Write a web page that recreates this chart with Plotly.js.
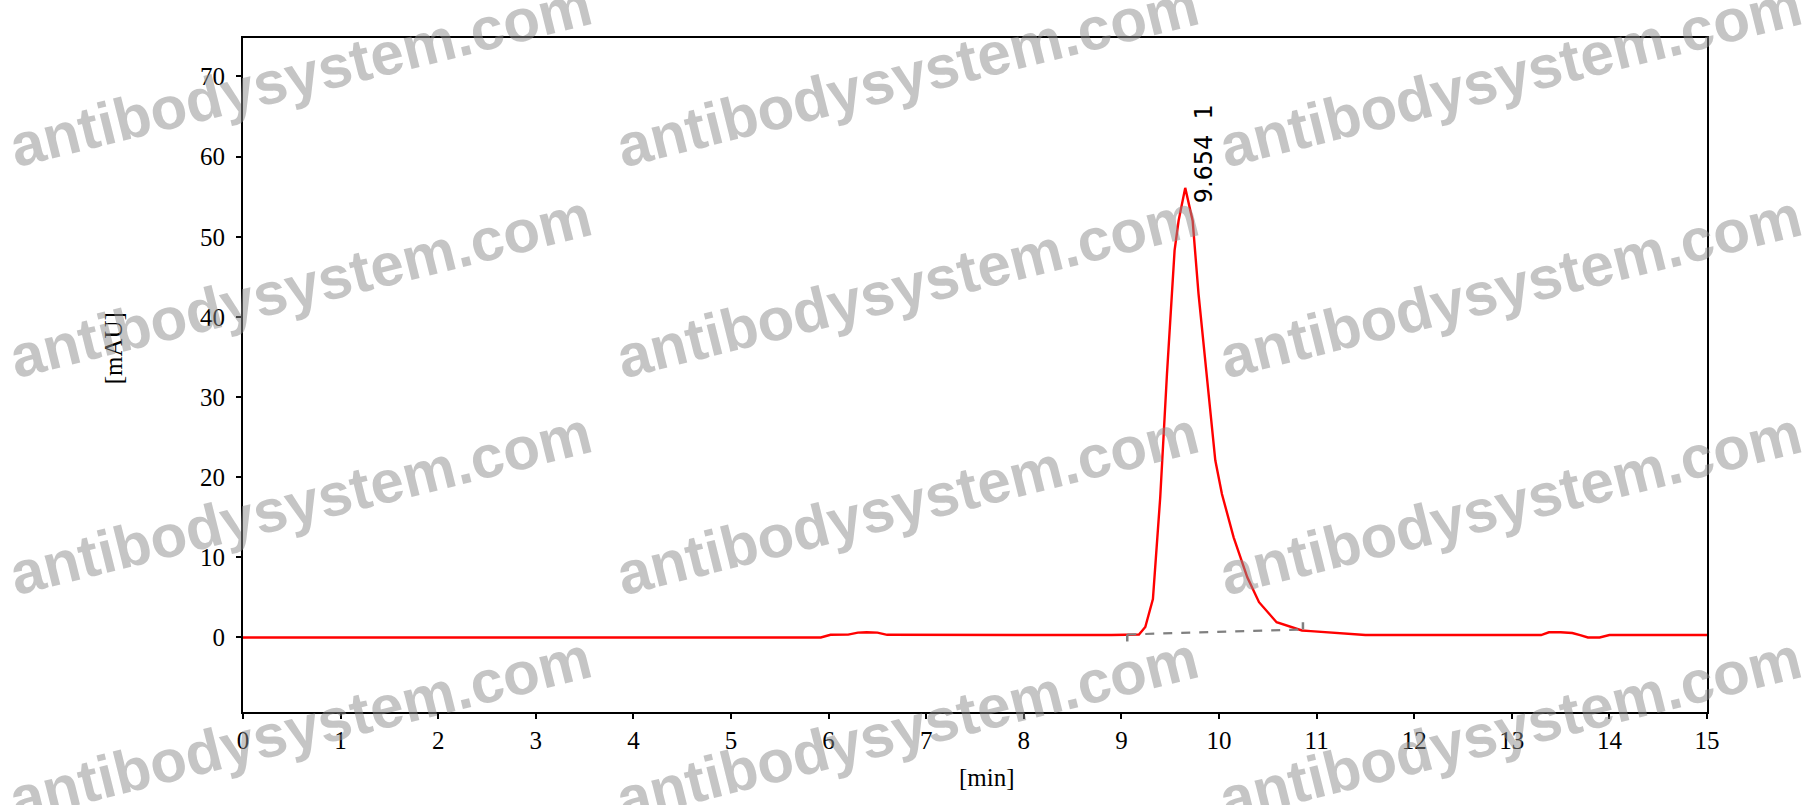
<!DOCTYPE html>
<html>
<head>
<meta charset="utf-8">
<script src="https://cdn.plot.ly/plotly-3.0.1.min.js"></script>
<style>
  html, body { margin: 0; padding: 0; background: #fff; }
  #chart { width: 1812px; height: 805px; }
</style>
</head>
<body>
<div id="chart"></div>
<script>
// chromatogram trace (min, mAU)
var timeMin = [0, 5.92, 6.02, 6.2, 6.3, 6.39, 6.5, 6.6, 8.9, 9.1, 9.18, 9.245, 9.323, 9.398, 9.467,
  9.545, 9.586, 9.654, 9.73, 9.79, 9.877, 9.962, 10.03, 10.15, 10.29, 10.41, 10.59, 10.85, 10.94,
  11.14, 11.3, 11.5, 13.3, 13.38, 13.5, 13.62, 13.7, 13.78, 13.9, 14.0, 15];
var signal = [0, 0, 0.33, 0.35, 0.6, 0.66, 0.6, 0.33, 0.3, 0.3, 0.37, 1.3, 4.8, 17.5, 32.9,
  48.3, 52.0, 56.1, 52.0, 42.9, 32.1, 22.1, 17.9, 12.5, 7.5, 4.4, 1.9, 0.87, 0.79,
  0.6, 0.5, 0.3, 0.3, 0.65, 0.65, 0.55, 0.3, 0.0, 0.0, 0.3, 0.3];

// integration baseline of peak 1
var baseX = [9.06, 10.86];
var baseY = [0.37, 1.0];
var startTickY = [0.37, -0.5];
var endTickY = [1.0, 1.9];

var peakLabel = "9.654\u00a0\u00a01";

var xTicks = [0, 1, 2, 3, 4, 5, 6, 7, 8, 9, 10, 11, 12, 13, 14, 15];
var yTicks = [0, 10, 20, 30, 40, 50, 60, 70];

var markText = "antibodysystem.com";
var markCols = [0.039, 0.454, 0.866];
var markRows = [0.945, 0.632, 0.31, -0.025];

var serif = { family: "Liberation Serif, Times New Roman, serif", size: 25, color: "#000" };

var trace1 = {
  x: timeMin, y: signal, type: "scatter", mode: "lines",
  line: { color: "#ff0000", width: 2.4 }, hoverinfo: "skip"
};
var trace2 = {
  x: baseX, y: baseY, type: "scatter", mode: "lines",
  line: { color: "#808080", width: 2.2, dash: "dash" }, hoverinfo: "skip"
};
var trace3 = {
  x: [baseX[0], baseX[0]], y: startTickY, type: "scatter", mode: "lines",
  line: { color: "#808080", width: 2.5 }, hoverinfo: "skip"
};
var trace4 = {
  x: [baseX[1], baseX[1]], y: endTickY, type: "scatter", mode: "lines",
  line: { color: "#808080", width: 2.5 }, hoverinfo: "skip"
};

var annotations = [{
  x: 9.85, y: 53.9, xref: "x", yref: "y",
  text: peakLabel, showarrow: false, textangle: -90,
  xanchor: "center", yanchor: "bottom",
  font: { family: "DejaVu Sans, Verdana, sans-serif", size: 24, color: "#000" }
}, {
  // axis titles placed where the reference has them
  x: -0.0886, y: 0.54, xref: "paper", yref: "paper",
  text: "[mAU]", showarrow: false, textangle: -90,
  xanchor: "center", yanchor: "middle", font: serif
}, {
  x: 0.508, y: -0.097, xref: "paper", yref: "paper",
  text: "[min]", showarrow: false,
  xanchor: "center", yanchor: "middle", font: serif
}];
markRows.forEach(function (r) {
  markCols.forEach(function (c) {
    annotations.push({
      x: c, y: r, xref: "paper", yref: "paper",
      text: markText, showarrow: false, textangle: -14,
      xanchor: "center", yanchor: "middle",
      font: { family: "Liberation Sans, Arial, sans-serif", size: 60, weight: "bold", color: "rgba(140,140,140,0.5)" }
    });
  });
});

var axisBase = {
  showline: true, linecolor: "#000", linewidth: 2, mirror: true,
  showgrid: false, zeroline: false,
  ticks: "outside", ticklen: 5, tickwidth: 2, tickcolor: "#000",
  tickfont: serif
};

var layout = {
  width: 1812, height: 805,
  margin: { l: 243, r: 105, t: 38, b: 93 },
  paper_bgcolor: "#fff", plot_bgcolor: "#fff",
  showlegend: false,
  xaxis: Object.assign({}, axisBase, { range: [0, 15], tickvals: xTicks }),
  yaxis: Object.assign({}, axisBase, { range: [-9.3, 74.8], tickvals: yTicks, ticklabelstandoff: 6 }),
  annotations: annotations
};

Plotly.newPlot("chart", [trace1, trace2, trace3, trace4], layout, { staticPlot: true });
</script>
</body>
</html>
